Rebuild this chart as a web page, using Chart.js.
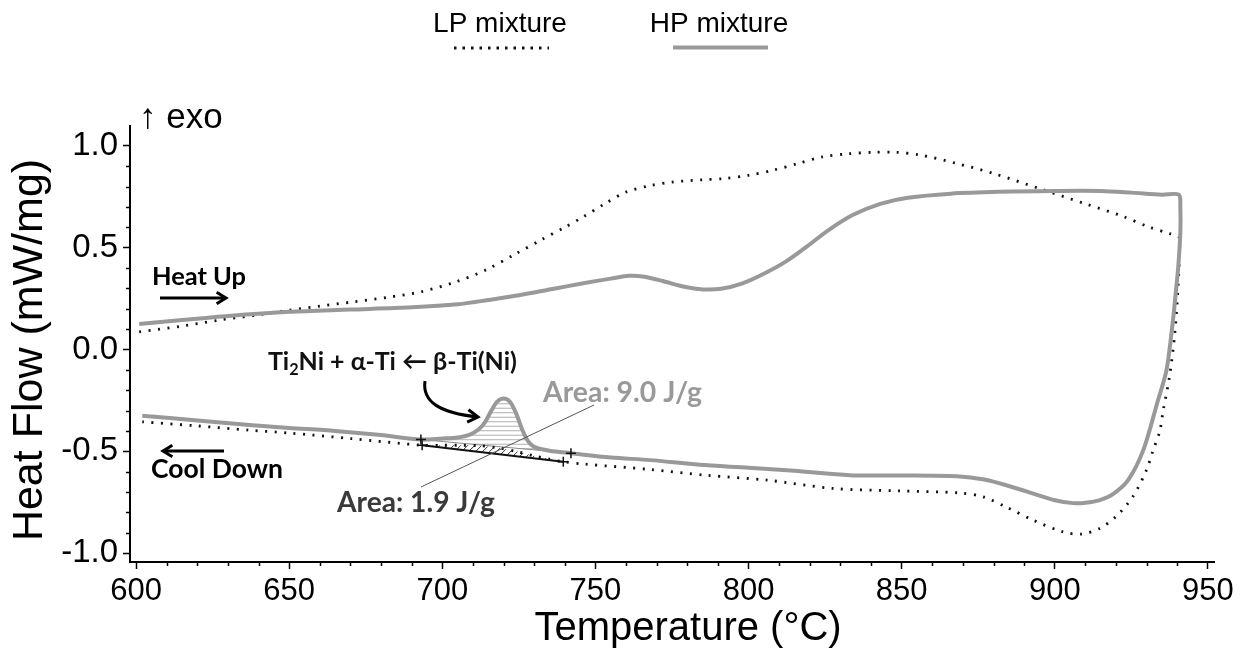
<!DOCTYPE html>
<html><head><meta charset="utf-8">
<script src="https://cdn.jsdelivr.net/npm/chart.js@4.4.1/dist/chart.umd.min.js"></script>
<style>html,body{margin:0;padding:0;background:#fff;}</style>
</head><body>
<canvas id="c" width="1257" height="656"></canvas>
<script>
// ---- data (temperature °C, heat flow mW/mg) ----
const hpTemp = [601,615,630,650,670,690,705,715,725,736,746,755,761,766,772,779,785,791,798,805,812,819,826,834,843,852,866,882,900,915,925,935,940.5,
  941,941,940.3,939.7,938.6,936.5,933.5,929,924,919,914.7,910,906,900,893,885,877,868,850,833,815,800,784,768,755,742,735,730,728,726,724,722,720,718,716,714,712,709,705,700,693,680,665,650,637,620,602];
const hpFlow = [0.125,0.145,0.165,0.185,0.196,0.207,0.222,0.243,0.266,0.297,0.325,0.348,0.362,0.357,0.336,0.308,0.295,0.298,0.325,0.372,0.430,0.505,0.585,0.660,0.715,0.745,0.765,0.774,0.778,0.778,0.770,0.760,0.760,
  0.70,0.57,0.40,0.307,0.144,-0.10,-0.26,-0.49,-0.64,-0.71,-0.739,-0.752,-0.754,-0.740,-0.707,-0.670,-0.638,-0.622,-0.618,-0.617,-0.595,-0.580,-0.566,-0.543,-0.530,-0.509,-0.497,-0.478,-0.450,-0.390,-0.310,-0.255,-0.240,-0.255,-0.300,-0.355,-0.390,-0.418,-0.432,-0.437,-0.442,-0.420,-0.400,-0.385,-0.371,-0.348,-0.325];
const lpTemp = [601,615,627,640,650,660,671,683,693,704,714,724,732,740,746,753,760,768,775,785,792,800,808,816,824,832,841,848,856,868,880,895,910,922,931,937.5,940.5,
  940.8,940.2,939.2,937.5,935.4,934.3,932,930,925.6,920,914.7,908.7,902.7,893,884,876.6,869,849.4,827.6,806,786,768,746,739.5,735,730,724,718,712,706,700,693.4,670,650,637,620,602];
const lpFlow = [0.086,0.115,0.144,0.170,0.193,0.213,0.234,0.258,0.283,0.330,0.389,0.470,0.536,0.600,0.651,0.715,0.773,0.805,0.822,0.833,0.839,0.855,0.880,0.912,0.945,0.960,0.968,0.968,0.955,0.913,0.864,0.790,0.715,0.655,0.600,0.569,0.553,
  0.50,0.29,0.08,-0.13,-0.30,-0.40,-0.50,-0.59,-0.72,-0.82,-0.878,-0.906,-0.895,-0.838,-0.772,-0.723,-0.704,-0.694,-0.682,-0.641,-0.617,-0.589,-0.562,-0.551,-0.538,-0.522,-0.500,-0.482,-0.472,-0.470,-0.470,-0.470,-0.437,-0.410,-0.396,-0.375,-0.355];
const seriesNames = ['LP mixture','HP mixture'];
const xTicks = [600,650,700,750,800,850,900,950];
const yTicks = [-1.0,-0.5,0.0,0.5,1.0];
const yTickLabels = ['-1.0','-0.5','0.0','0.5','1.0'];
const xTitle = 'Temperature (°C)';
const yTitle = 'Heat Flow (mW/mg)';
// integration baselines (start, end)
const hpBaseT = [693, 742];
const hpBaseHF = [-0.442, -0.509];
const lpBaseT = [693.4, 739.5];
const lpBaseHF = [-0.470, -0.551];
const areaLabels = ['Area: 9.0 J/g','Area: 1.9 J/g'];

const HP_COLOR = '#999999';
const LP_COLOR = '#111111';
const LABEL_FONT = 'Lato, "Open Sans", sans-serif';
const AXIS_FONT = '"Liberation Sans", Arial, sans-serif';

function pts(t, f){ return t.map((v,i)=>({x:v, y:f[i]})); }

function fitFont(ctx, text, target, base){
  ctx.font = 'bold ' + base + 'px ' + LABEL_FONT;
  const w = ctx.measureText(text).width;
  return base * target / w;
}
function arrowHead(ctx, x, y, ang, len){
  ctx.beginPath();
  ctx.moveTo(x - len*Math.cos(ang - 0.55), y - len*Math.sin(ang - 0.55));
  ctx.lineTo(x, y);
  ctx.lineTo(x - len*Math.cos(ang + 0.55), y - len*Math.sin(ang + 0.55));
  ctx.stroke();
}
function curvePath(ctx, meta, idx){
  const d = meta.data;
  ctx.moveTo(d[idx[0]].x, d[idx[0]].y);
  for (let k=1;k<idx.length;k++){
    const p0 = d[idx[k-1]], p1 = d[idx[k]];
    ctx.bezierCurveTo(p0.cp2x, p0.cp2y, p1.cp1x, p1.cp1y, p1.x, p1.y);
  }
}
function coolIdx(temps, lo, hi){
  let turn = 0; temps.forEach((v,i)=>{ if (v > temps[turn]) turn = i; });
  const out = [];
  for (let i=turn;i<temps.length;i++) if (temps[i] >= lo-0.01 && temps[i] <= hi+0.01) out.push(i);
  return out;
}

const deco = {
  id: 'deco',
  beforeDatasetsDraw(chart){
    const {ctx, scales:{x, y}} = chart;
    const hpMeta = chart.getDatasetMeta(1);
    const hi = coolIdx(hpTemp, hpBaseT[0], hpBaseT[1]);
    ctx.save();
    ctx.beginPath();
    curvePath(ctx, hpMeta, hi);
    ctx.lineTo(x.getPixelForValue(hpBaseT[0]), y.getPixelForValue(hpBaseHF[0]));
    ctx.lineTo(x.getPixelForValue(hpBaseT[1]), y.getPixelForValue(hpBaseHF[1]));
    ctx.closePath();
    ctx.clip();
    ctx.strokeStyle = '#b0b0b0'; ctx.lineWidth = 1;
    for (let py = y.getPixelForValue(-0.2); py < y.getPixelForValue(-0.6); py += 4.5){
      ctx.beginPath(); ctx.moveTo(x.getPixelForValue(690), py); ctx.lineTo(x.getPixelForValue(745), py); ctx.stroke();
    }
    ctx.restore();
    const lpMeta = chart.getDatasetMeta(0);
    const li = coolIdx(lpTemp, lpBaseT[0], lpBaseT[1]);
    ctx.save();
    ctx.beginPath();
    curvePath(ctx, lpMeta, li);
    ctx.lineTo(x.getPixelForValue(lpBaseT[0]), y.getPixelForValue(lpBaseHF[0]));
    ctx.lineTo(x.getPixelForValue(lpBaseT[1]), y.getPixelForValue(lpBaseHF[1]));
    ctx.closePath();
    ctx.clip();
    ctx.strokeStyle = '#333'; ctx.lineWidth = 1;
    const x0 = x.getPixelForValue(685), x1 = x.getPixelForValue(745);
    const yA = y.getPixelForValue(-0.40), yB = y.getPixelForValue(-0.60);
    for (let s = x0 - 60; s < x1; s += 7){
      ctx.beginPath(); ctx.moveTo(s, yB); ctx.lineTo(s + (yB-yA), yA); ctx.stroke();
    }
    ctx.restore();
    ctx.save();
    ctx.strokeStyle = '#888'; ctx.lineWidth = 1;
    ctx.beginPath();
    ctx.moveTo(x.getPixelForValue(hpBaseT[0]), y.getPixelForValue(hpBaseHF[0]));
    ctx.lineTo(x.getPixelForValue(hpBaseT[1]), y.getPixelForValue(hpBaseHF[1]));
    ctx.stroke();
    ctx.restore();
  },
  afterDraw(chart){
    const {ctx, chartArea:a, scales:{x, y}} = chart;
    ctx.save();
    // minor ticks
    ctx.strokeStyle = '#000'; ctx.lineWidth = 1.5;
    for (let t = 600; t <= 950; t += 10){
      if (t % 50 === 0) continue;
      const px = Math.round(x.getPixelForValue(t)) + 0.5;
      ctx.beginPath(); ctx.moveTo(px, a.bottom); ctx.lineTo(px, a.bottom + 4); ctx.stroke();
    }
    for (let k = -10; k <= 10; k++){
      if (k % 5 === 0) continue;
      const py = Math.round(y.getPixelForValue(k/10)) + 0.5;
      ctx.beginPath(); ctx.moveTo(a.left, py); ctx.lineTo(a.left - 4, py); ctx.stroke();
    }
    // axis titles
    ctx.fillStyle = '#000'; ctx.textAlign = 'center'; ctx.textBaseline = 'middle';
    ctx.font = '40px ' + AXIS_FONT;
    ctx.fillText(xTitle, 688, 629);
    ctx.save();
    ctx.translate(30, 350); ctx.rotate(-Math.PI/2);
    ctx.font = '43px ' + AXIS_FONT;
    ctx.fillText(yTitle, 0, 0);
    ctx.restore();
    ctx.textBaseline = 'alphabetic';

    // LP baseline (black)
    ctx.strokeStyle = '#111'; ctx.lineWidth = 2;
    ctx.beginPath();
    ctx.moveTo(x.getPixelForValue(lpBaseT[0]), y.getPixelForValue(lpBaseHF[0]));
    ctx.lineTo(x.getPixelForValue(lpBaseT[1]), y.getPixelForValue(lpBaseHF[1]));
    ctx.stroke();
    ctx.lineWidth = 1.5;
    const plus = (t, v) => {
      const px = x.getPixelForValue(t), py = y.getPixelForValue(v);
      ctx.beginPath(); ctx.moveTo(px-5, py); ctx.lineTo(px+5, py); ctx.moveTo(px, py-5); ctx.lineTo(px, py+5); ctx.stroke();
    };
    plus(hpBaseT[0], hpBaseHF[0]); plus(hpBaseT[1], hpBaseHF[1]);
    plus(lpBaseT[0], lpBaseHF[0]); plus(lpBaseT[1], lpBaseHF[1]);

    // legend
    ctx.font = '28px ' + AXIS_FONT;
    ctx.fillStyle = '#000'; ctx.textAlign = 'center';
    ctx.fillText(seriesNames[0], 500, 32);
    ctx.fillText(seriesNames[1], 719, 32);
    ctx.strokeStyle = LP_COLOR; ctx.lineWidth = 3; ctx.setLineDash([2.5, 6]);
    ctx.beginPath(); ctx.moveTo(454, 48); ctx.lineTo(549, 48); ctx.stroke();
    ctx.setLineDash([]);
    ctx.strokeStyle = HP_COLOR; ctx.lineWidth = 4;
    ctx.beginPath(); ctx.moveTo(673, 47.5); ctx.lineTo(768, 47.5); ctx.stroke();

    // exo label
    ctx.fillStyle = '#000'; ctx.textAlign = 'left';
    ctx.font = '35px ' + AXIS_FONT;
    ctx.fillText('\u2191 exo', 139, 128);

    // Heat Up / Cool Down
    ctx.font = 'bold ' + fitFont(ctx, 'Heat Up', 94, 24) + 'px ' + LABEL_FONT;
    ctx.fillText('Heat Up', 152, 285);
    ctx.font = 'bold ' + fitFont(ctx, 'Cool Down', 132, 24) + 'px ' + LABEL_FONT;
    ctx.fillText('Cool Down', 151, 478);
    ctx.strokeStyle = '#000'; ctx.lineWidth = 3;
    ctx.beginPath(); ctx.moveTo(160, 298); ctx.lineTo(226, 298); ctx.stroke();
    arrowHead(ctx, 226, 298, 0, 11);
    ctx.beginPath(); ctx.moveTo(224, 451); ctx.lineTo(163, 451); ctx.stroke();
    arrowHead(ctx, 163, 451, Math.PI, 11);

    // reaction label with subscript
    const base = 22;
    const parts = ['Ti', '2', 'Ni + \u03b1-Ti \u2190 \u03b2-Ti(Ni)'];
    ctx.font = 'bold ' + base + 'px ' + LABEL_FONT;
    let w = ctx.measureText(parts[0]).width + ctx.measureText(parts[2]).width;
    ctx.font = 'bold ' + (base*0.65) + 'px ' + LABEL_FONT;
    w += ctx.measureText(parts[1]).width;
    const fs = base * 249 / w;
    let cx = 268;
    ctx.fillStyle = '#111';
    ctx.font = 'bold ' + fs + 'px ' + LABEL_FONT;
    ctx.fillText(parts[0], cx, 370); cx += ctx.measureText(parts[0]).width;
    ctx.font = 'bold ' + (fs*0.65) + 'px ' + LABEL_FONT;
    ctx.fillText(parts[1], cx, 375); cx += ctx.measureText(parts[1]).width;
    ctx.font = 'bold ' + fs + 'px ' + LABEL_FONT;
    ctx.fillText(parts[2], cx, 370);

    // curved arrow
    ctx.strokeStyle = '#000'; ctx.lineWidth = 3;
    ctx.beginPath(); ctx.moveTo(425, 381);
    ctx.bezierCurveTo(422, 402, 440, 413, 478, 417); ctx.stroke();
    arrowHead(ctx, 478, 417, Math.atan2(4, 38), 12);

    // leader line
    ctx.strokeStyle = '#555'; ctx.lineWidth = 1;
    ctx.beginPath(); ctx.moveTo(421, 487); ctx.lineTo(594, 405); ctx.stroke();

    // area labels
    ctx.font = 'bold ' + fitFont(ctx, areaLabels[0], 159, 24) + 'px ' + LABEL_FONT;
    ctx.fillStyle = '#999';
    ctx.fillText(areaLabels[0], 543, 402);
    ctx.font = 'bold ' + fitFont(ctx, areaLabels[1], 158, 24) + 'px ' + LABEL_FONT;
    ctx.fillStyle = '#3a3a3a';
    ctx.fillText(areaLabels[1], 337, 512);
    ctx.restore();
  }
};

new Chart(document.getElementById('c'), {
  type: 'scatter',
  data: {
    datasets: [
      { label: seriesNames[0], data: pts(lpTemp, lpFlow), showLine: true, borderColor: LP_COLOR, borderWidth: 2.8,
        borderDash: [2, 7.5], pointRadius: 0, tension: 0.3, order: 2 },
      { label: seriesNames[1], data: pts(hpTemp, hpFlow), showLine: true, borderColor: HP_COLOR, borderWidth: 4,
        pointRadius: 0, tension: 0.3, order: 1 }
    ]
  },
  options: {
    responsive: false, animation: false, devicePixelRatio: 1,
    layout: { padding: { top: 126, right: 43, left: 0, bottom: 0 } },
    plugins: { legend: { display: false }, tooltip: { enabled: false } },
    scales: {
      x: {
        type: 'linear', min: 598, max: 952,
        afterFit(s){ s.height = 94; },
        afterBuildTicks(s){ s.ticks = xTicks.map(v => ({ value: v })); },
        grid: { drawOnChartArea: false, color: '#000', tickLength: 7, tickWidth: 1.5 },
        border: { color: '#000', width: 2 },
        ticks: { color: '#000', padding: 4, maxRotation: 0, autoSkip: false,
          font: { family: AXIS_FONT, size: 31 },
          callback: v => String(v) },
        title: { display: false }
      },
      y: {
        type: 'linear', min: -1.043, max: 1.097,
        afterFit(s){ s.width = 130; },
        afterBuildTicks(s){ s.ticks = yTicks.map(v => ({ value: v })); },
        grid: { drawOnChartArea: false, color: '#000', tickLength: 7, tickWidth: 1.5 },
        border: { color: '#000', width: 2 },
        ticks: { color: '#000', padding: 5, autoSkip: false,
          font: { family: AXIS_FONT, size: 33 },
          callback: (v) => yTickLabels[yTicks.findIndex(t => Math.abs(t - v) < 1e-6)] },
        title: { display: false }
      }
    }
  },
  plugins: [deco]
});
</script>
</body></html>
